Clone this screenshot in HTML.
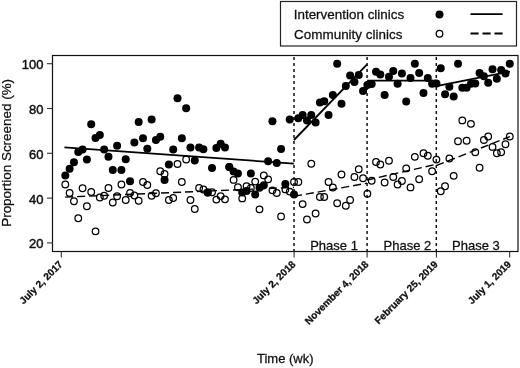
<!DOCTYPE html>
<html><head><meta charset="utf-8"><style>
html,body{margin:0;padding:0;background:#fff;}
body{width:520px;height:368px;overflow:hidden;}
svg{display:block;font-family:"Liberation Sans",sans-serif;filter:grayscale(1);}
text{stroke:#111;stroke-width:0.28px;}
.yt text{stroke-width:0.45px;}
</style></head><body>
<svg width="520" height="368" viewBox="0 0 520 368">
<rect x="0" y="0" width="520" height="368" fill="#fff"/>
<!-- legend -->
<rect x="280.5" y="1.5" width="236" height="44.5" fill="none" stroke="#222" stroke-width="1.2"/>
<text x="293.7" y="19" font-size="13.45" fill="#111">Intervention clinics</text>
<text x="294.1" y="39" font-size="13.45" fill="#111">Community clinics</text>
<circle cx="439.5" cy="14.5" r="4.0" fill="#000"/>
<circle cx="439.5" cy="33.7" r="3.3" fill="none" stroke="#000" stroke-width="1.25"/>
<line x1="470.5" y1="14.2" x2="502.6" y2="14.2" stroke="#000" stroke-width="1.8"/>
<line x1="470.5" y1="33.5" x2="502.6" y2="33.5" stroke="#000" stroke-width="1.8" stroke-dasharray="8.1 3.9"/>
<!-- plot box -->
<rect x="52.5" y="55.5" width="465.5" height="196.0" fill="none" stroke="#111" stroke-width="1.2"/>
<g stroke="#333" stroke-width="1.1"><line x1="47" y1="242.90" x2="52.5" y2="242.90"/><line x1="47" y1="198.10" x2="52.5" y2="198.10"/><line x1="47" y1="153.30" x2="52.5" y2="153.30"/><line x1="47" y1="108.50" x2="52.5" y2="108.50"/><line x1="47" y1="63.70" x2="52.5" y2="63.70"/><line x1="61.3" y1="251.5" x2="61.3" y2="257.5"/><line x1="294.1" y1="251.5" x2="294.1" y2="257.5"/><line x1="367.1" y1="251.5" x2="367.1" y2="257.5"/><line x1="436.4" y1="251.5" x2="436.4" y2="257.5"/><line x1="509.7" y1="251.5" x2="509.7" y2="257.5"/></g>
<g class="yt" font-size="13" fill="#111"><text x="43.5" y="248.30" text-anchor="end">20</text><text x="43.5" y="203.50" text-anchor="end">40</text><text x="43.5" y="158.70" text-anchor="end">60</text><text x="43.5" y="113.90" text-anchor="end">80</text><text x="43.5" y="69.10" text-anchor="end">100</text></g>
<g font-size="10.0" font-weight="bold" fill="#111"><text transform="translate(63.3,265.0) rotate(-45)" text-anchor="end">July 2, 2017</text><text transform="translate(296.1,265.0) rotate(-45)" text-anchor="end">July 2, 2018</text><text transform="translate(369.1,265.0) rotate(-45)" text-anchor="end">November 4, 2018</text><text transform="translate(438.4,265.0) rotate(-45)" text-anchor="end">February 25, 2019</text><text transform="translate(511.7,265.0) rotate(-45)" text-anchor="end">July 1, 2019</text></g>
<g stroke="#111" stroke-width="1.5" stroke-dasharray="3 3"><line x1="294.0" y1="57.0" x2="294.0" y2="251.5"/><line x1="367.1" y1="57.0" x2="367.1" y2="251.5"/><line x1="436.3" y1="57.0" x2="436.3" y2="251.5"/></g>
<g font-size="13" fill="#111">
<text x="310.2" y="249.7">Phase 1</text>
<text x="383.6" y="249.7">Phase 2</text>
<text x="452.0" y="249.9">Phase 3</text>
</g>
<g fill="#000"><circle cx="65.32" cy="175.50" r="4.0"/><circle cx="69.63" cy="168.75" r="4.0"/><circle cx="73.95" cy="162.20" r="4.0"/><circle cx="78.26" cy="152.00" r="4.0"/><circle cx="82.58" cy="149.60" r="4.0"/><circle cx="86.89" cy="159.60" r="4.0"/><circle cx="91.21" cy="124.30" r="4.0"/><circle cx="95.52" cy="138.00" r="4.0"/><circle cx="99.84" cy="135.00" r="4.0"/><circle cx="104.15" cy="149.50" r="4.0"/><circle cx="108.47" cy="156.75" r="4.0"/><circle cx="112.78" cy="170.00" r="4.0"/><circle cx="117.10" cy="145.75" r="4.0"/><circle cx="121.41" cy="170.00" r="4.0"/><circle cx="125.73" cy="159.25" r="4.0"/><circle cx="130.04" cy="181.25" r="4.0"/><circle cx="134.36" cy="142.50" r="4.0"/><circle cx="138.67" cy="122.00" r="4.0"/><circle cx="142.99" cy="138.25" r="4.0"/><circle cx="147.30" cy="148.75" r="4.0"/><circle cx="151.62" cy="119.50" r="4.0"/><circle cx="155.93" cy="140.00" r="4.0"/><circle cx="160.25" cy="136.75" r="4.0"/><circle cx="164.56" cy="180.00" r="4.0"/><circle cx="168.88" cy="164.50" r="4.0"/><circle cx="173.20" cy="149.50" r="4.0"/><circle cx="177.51" cy="98.25" r="4.0"/><circle cx="181.83" cy="138.25" r="4.0"/><circle cx="186.14" cy="108.25" r="4.0"/><circle cx="190.46" cy="147.50" r="4.0"/><circle cx="194.77" cy="160.50" r="4.0"/><circle cx="199.09" cy="147.50" r="4.0"/><circle cx="203.40" cy="149.25" r="4.0"/><circle cx="207.72" cy="192.50" r="4.0"/><circle cx="212.03" cy="168.00" r="4.0"/><circle cx="216.35" cy="148.00" r="4.0"/><circle cx="220.66" cy="143.75" r="4.0"/><circle cx="224.98" cy="147.50" r="4.0"/><circle cx="229.29" cy="167.00" r="4.0"/><circle cx="233.61" cy="171.50" r="4.0"/><circle cx="237.92" cy="173.40" r="4.0"/><circle cx="242.24" cy="192.40" r="4.0"/><circle cx="246.55" cy="190.90" r="4.0"/><circle cx="250.87" cy="173.60" r="4.0"/><circle cx="255.18" cy="194.50" r="4.0"/><circle cx="259.50" cy="187.70" r="4.0"/><circle cx="263.81" cy="185.20" r="4.0"/><circle cx="268.13" cy="161.25" r="4.0"/><circle cx="272.44" cy="121.25" r="4.0"/><circle cx="276.76" cy="163.00" r="4.0"/><circle cx="281.08" cy="149.00" r="4.0"/><circle cx="285.39" cy="184.00" r="4.0"/><circle cx="289.71" cy="119.50" r="4.0"/><circle cx="294.02" cy="194.40" r="4.0"/><circle cx="298.34" cy="118.25" r="4.0"/><circle cx="302.65" cy="115.00" r="4.0"/><circle cx="306.97" cy="120.50" r="4.0"/><circle cx="311.28" cy="115.00" r="4.0"/><circle cx="315.60" cy="122.50" r="4.0"/><circle cx="319.91" cy="102.50" r="4.0"/><circle cx="324.23" cy="101.25" r="4.0"/><circle cx="328.54" cy="115.00" r="4.0"/><circle cx="332.86" cy="95.00" r="4.0"/><circle cx="337.17" cy="63.75" r="4.0"/><circle cx="341.49" cy="103.75" r="4.0"/><circle cx="345.80" cy="86.10" r="4.0"/><circle cx="350.12" cy="75.40" r="4.0"/><circle cx="354.43" cy="82.10" r="4.0"/><circle cx="358.75" cy="75.00" r="4.0"/><circle cx="363.06" cy="90.90" r="4.0"/><circle cx="367.38" cy="85.00" r="4.0"/><circle cx="371.69" cy="84.00" r="4.0"/><circle cx="376.01" cy="71.80" r="4.0"/><circle cx="380.32" cy="74.40" r="4.0"/><circle cx="384.64" cy="95.00" r="4.0"/><circle cx="388.96" cy="76.80" r="4.0"/><circle cx="393.27" cy="70.90" r="4.0"/><circle cx="397.59" cy="83.75" r="4.0"/><circle cx="401.90" cy="73.40" r="4.0"/><circle cx="406.22" cy="101.50" r="4.0"/><circle cx="410.53" cy="78.00" r="4.0"/><circle cx="414.85" cy="63.75" r="4.0"/><circle cx="419.16" cy="73.00" r="4.0"/><circle cx="423.48" cy="93.10" r="4.0"/><circle cx="427.79" cy="78.10" r="4.0"/><circle cx="432.11" cy="83.80" r="4.0"/><circle cx="436.42" cy="83.40" r="4.0"/><circle cx="440.74" cy="68.20" r="4.0"/><circle cx="445.05" cy="94.20" r="4.0"/><circle cx="449.37" cy="86.80" r="4.0"/><circle cx="453.68" cy="96.50" r="4.0"/><circle cx="458.00" cy="63.80" r="4.0"/><circle cx="462.31" cy="87.80" r="4.0"/><circle cx="466.63" cy="87.80" r="4.0"/><circle cx="470.94" cy="83.80" r="4.0"/><circle cx="475.26" cy="83.40" r="4.0"/><circle cx="479.57" cy="73.00" r="4.0"/><circle cx="483.89" cy="76.20" r="4.0"/><circle cx="488.20" cy="82.70" r="4.0"/><circle cx="492.52" cy="69.30" r="4.0"/><circle cx="496.84" cy="78.80" r="4.0"/><circle cx="501.15" cy="70.00" r="4.0"/><circle cx="505.47" cy="73.50" r="4.0"/><circle cx="509.78" cy="63.80" r="4.0"/></g>
<g fill="none" stroke="#000" stroke-width="1.25"><circle cx="65.32" cy="184.50" r="3.3"/><circle cx="69.63" cy="193.00" r="3.3"/><circle cx="73.95" cy="201.25" r="3.3"/><circle cx="78.26" cy="218.25" r="3.3"/><circle cx="82.58" cy="188.25" r="3.3"/><circle cx="86.89" cy="206.25" r="3.3"/><circle cx="91.21" cy="192.00" r="3.3"/><circle cx="95.52" cy="231.30" r="3.3"/><circle cx="99.84" cy="197.50" r="3.3"/><circle cx="104.15" cy="195.75" r="3.3"/><circle cx="108.47" cy="188.00" r="3.3"/><circle cx="112.78" cy="202.50" r="3.3"/><circle cx="117.10" cy="196.25" r="3.3"/><circle cx="121.41" cy="184.50" r="3.3"/><circle cx="125.73" cy="200.00" r="3.3"/><circle cx="130.04" cy="193.00" r="3.3"/><circle cx="134.36" cy="195.50" r="3.3"/><circle cx="138.67" cy="200.75" r="3.3"/><circle cx="142.99" cy="182.00" r="3.3"/><circle cx="147.30" cy="185.00" r="3.3"/><circle cx="151.62" cy="195.75" r="3.3"/><circle cx="155.93" cy="193.25" r="3.3"/><circle cx="160.25" cy="171.25" r="3.3"/><circle cx="164.56" cy="174.00" r="3.3"/><circle cx="168.88" cy="200.00" r="3.3"/><circle cx="173.20" cy="198.00" r="3.3"/><circle cx="177.51" cy="164.00" r="3.3"/><circle cx="181.83" cy="182.00" r="3.3"/><circle cx="186.14" cy="159.50" r="3.3"/><circle cx="190.46" cy="200.00" r="3.3"/><circle cx="194.77" cy="209.00" r="3.3"/><circle cx="199.09" cy="188.00" r="3.3"/><circle cx="203.40" cy="189.50" r="3.3"/><circle cx="207.72" cy="192.50" r="3.3"/><circle cx="212.03" cy="192.25" r="3.3"/><circle cx="216.35" cy="199.60" r="3.3"/><circle cx="220.66" cy="196.10" r="3.3"/><circle cx="224.98" cy="199.30" r="3.3"/><circle cx="229.29" cy="167.00" r="3.3"/><circle cx="233.61" cy="179.90" r="3.3"/><circle cx="237.92" cy="187.20" r="3.3"/><circle cx="242.24" cy="198.40" r="3.3"/><circle cx="246.55" cy="186.10" r="3.3"/><circle cx="250.87" cy="188.00" r="3.3"/><circle cx="255.18" cy="181.60" r="3.3"/><circle cx="259.50" cy="209.30" r="3.3"/><circle cx="263.81" cy="175.40" r="3.3"/><circle cx="268.13" cy="179.30" r="3.3"/><circle cx="272.44" cy="190.30" r="3.3"/><circle cx="276.76" cy="193.00" r="3.3"/><circle cx="281.08" cy="216.50" r="3.3"/><circle cx="285.39" cy="189.40" r="3.3"/><circle cx="289.71" cy="191.60" r="3.3"/><circle cx="294.02" cy="182.00" r="3.3"/><circle cx="298.34" cy="182.00" r="3.3"/><circle cx="302.65" cy="204.10" r="3.3"/><circle cx="306.97" cy="219.50" r="3.3"/><circle cx="311.28" cy="163.75" r="3.3"/><circle cx="315.60" cy="213.50" r="3.3"/><circle cx="319.91" cy="197.00" r="3.3"/><circle cx="324.23" cy="197.00" r="3.3"/><circle cx="328.54" cy="182.00" r="3.3"/><circle cx="332.86" cy="187.50" r="3.3"/><circle cx="337.17" cy="203.25" r="3.3"/><circle cx="341.49" cy="174.50" r="3.3"/><circle cx="345.80" cy="205.75" r="3.3"/><circle cx="350.12" cy="200.00" r="3.3"/><circle cx="354.43" cy="177.00" r="3.3"/><circle cx="358.75" cy="169.25" r="3.3"/><circle cx="363.06" cy="178.25" r="3.3"/><circle cx="367.38" cy="193.75" r="3.3"/><circle cx="371.69" cy="180.75" r="3.3"/><circle cx="376.01" cy="162.00" r="3.3"/><circle cx="380.32" cy="164.50" r="3.3"/><circle cx="384.64" cy="182.50" r="3.3"/><circle cx="388.96" cy="160.75" r="3.3"/><circle cx="393.27" cy="177.00" r="3.3"/><circle cx="397.59" cy="184.50" r="3.3"/><circle cx="401.90" cy="181.00" r="3.3"/><circle cx="406.22" cy="168.40" r="3.3"/><circle cx="410.53" cy="187.40" r="3.3"/><circle cx="414.85" cy="156.80" r="3.3"/><circle cx="419.16" cy="179.20" r="3.3"/><circle cx="423.48" cy="153.20" r="3.3"/><circle cx="427.79" cy="155.70" r="3.3"/><circle cx="432.11" cy="171.20" r="3.3"/><circle cx="436.42" cy="159.60" r="3.3"/><circle cx="440.74" cy="191.20" r="3.3"/><circle cx="445.05" cy="186.20" r="3.3"/><circle cx="449.37" cy="158.50" r="3.3"/><circle cx="453.68" cy="175.80" r="3.3"/><circle cx="458.00" cy="141.20" r="3.3"/><circle cx="462.31" cy="120.40" r="3.3"/><circle cx="466.63" cy="140.70" r="3.3"/><circle cx="470.94" cy="123.80" r="3.3"/><circle cx="475.26" cy="152.20" r="3.3"/><circle cx="479.57" cy="167.70" r="3.3"/><circle cx="483.89" cy="140.00" r="3.3"/><circle cx="488.20" cy="136.50" r="3.3"/><circle cx="492.52" cy="146.90" r="3.3"/><circle cx="496.84" cy="153.20" r="3.3"/><circle cx="501.15" cy="152.20" r="3.3"/><circle cx="505.47" cy="144.20" r="3.3"/><circle cx="509.78" cy="136.50" r="3.3"/></g>
<g stroke="#000" stroke-width="1.8" fill="none"><line x1="64.4" y1="147.4" x2="293.9" y2="163.6"/><line x1="294.0" y1="140.0" x2="367.1" y2="64.3"/><line x1="367.1" y1="80.6" x2="436.2" y2="80.6"/><line x1="436.2" y1="86.1" x2="509.9" y2="71.7"/></g>
<g stroke="#000" stroke-width="1.4" fill="none" stroke-dasharray="8.1 3.9"><line x1="65.1" y1="197.1" x2="294.0" y2="187.4"/><line x1="294.0" y1="196.3" x2="367.1" y2="183.2"/><line x1="367.1" y1="180.0" x2="436.2" y2="164.3"/><line x1="436.2" y1="165.6" x2="509.9" y2="136.6"/></g>
<text transform="translate(10.8,226.8) rotate(-90)" font-size="13.45" fill="#111">Proportion Screened (%)</text>
<text x="257" y="363.1" font-size="13" fill="#111">Time (wk)</text>
</svg>
</body></html>
